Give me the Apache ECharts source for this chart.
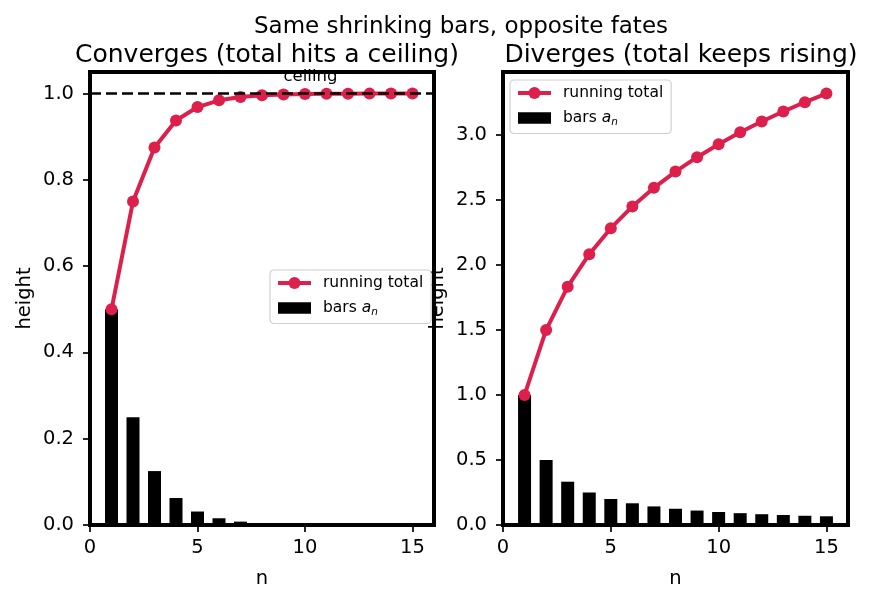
<!DOCTYPE html>
<html>
<head>
<meta charset="utf-8">
<script src="https://cdn.jsdelivr.net/npm/echarts@6/dist/echarts.min.js"></script>
<style>
  html, body { margin: 0; padding: 0; background: #fff; }
  #chart { width: 871px; height: 600px; }
</style>
</head>
<body>
<div id="chart"></div>
<script>
// n = 1..15
const nValues = [1, 2, 3, 4, 5, 6, 7, 8, 9, 10, 11, 12, 13, 14, 15];

// left panel: halving bars and their running total
const convBars = [0.5, 0.25, 0.125, 0.0625, 0.03125, 0.015625, 0.0078125, 0.0039, 0.00195, 0.00098, 0.00049, 0.00024, 0.00012, 0.00006, 0.00003];
const convTotal = [0.5, 0.75, 0.875, 0.9375, 0.96875, 0.984375, 0.9921875, 0.9961, 0.998, 0.999, 0.9995, 0.99976, 0.99988, 0.99994, 0.99997];

// right panel: 1/n bars and their running total
const divBars = [1, 0.5, 0.333, 0.25, 0.2, 0.167, 0.143, 0.125, 0.111, 0.1, 0.091, 0.083, 0.077, 0.071, 0.067];
const divTotal = [1, 1.5, 1.833, 2.083, 2.283, 2.45, 2.593, 2.718, 2.829, 2.929, 3.02, 3.103, 3.18, 3.252, 3.318];

const xTicks = [0, 5, 10, 15];
const convYTicks = [0, 0.2, 0.4, 0.6, 0.8, 1.0];
const divYTicks = [0, 0.5, 1.0, 1.5, 2.0, 2.5, 3.0];
const ceiling = 1.0;

const RED = '#dc1f4b';
const FONT = 'DejaVu Sans';

const chart = echarts.init(document.getElementById('chart'));

function pairs(xs, ys) {
    return xs.map((x, i) => [x, ys[i]]);
}

function xAxisFor(gridIndex) {
    return {
        type: 'value', gridIndex: gridIndex, min: 0, max: 16,
        name: 'n', nameLocation: 'middle', nameGap: 44,
        nameTextStyle: { fontFamily: FONT, fontSize: 19.5, color: '#000' },
        axisLine: { show: false },
        axisTick: { show: true, inside: false, length: 7, lineStyle: { color: '#000', width: 1.7 }, customValues: xTicks },
        axisLabel: { fontFamily: FONT, fontSize: 19.5, color: '#000', margin: 13, customValues: xTicks },
        splitLine: { show: false }
    };
}

function yAxisFor(gridIndex, max, ticks) {
    return {
        type: 'value', gridIndex: gridIndex, min: 0, max: max,
        name: 'height', nameLocation: 'middle', nameGap: 55,
        nameTextStyle: { fontFamily: FONT, fontSize: 19.5, color: '#000' },
        axisLine: { show: false },
        axisTick: { show: true, inside: false, length: 7, lineStyle: { color: '#000', width: 1.7 }, customValues: ticks },
        axisLabel: { fontFamily: FONT, fontSize: 19.5, color: '#000', margin: 16, customValues: ticks,
            formatter: v => v.toFixed(1) },
        splitLine: { show: false }
    };
}

const legendRich = {
    t: { fontFamily: FONT, fontSize: 15.5, color: '#000' },
    i: { fontFamily: FONT, fontSize: 15.5, fontStyle: 'italic', color: '#000' },
    s: { fontFamily: FONT, fontSize: 10.5, fontStyle: 'italic', color: '#000', padding: [8, 0, 0, 0] }
};

function legendAt(pos) {
    return Object.assign({
        data: [
            { name: 'running total' },
            { name: 'bars a_n', icon: 'path://M0,0H32V11H0Z' }
        ],
        orient: 'vertical',
        itemWidth: 33, itemHeight: 15, itemGap: 9,
        symbolKeepAspect: true,
        lineStyle: { width: 4 },
        backgroundColor: '#fff',
        borderColor: '#d0d0d0', borderWidth: 1.2, borderRadius: 4,
        padding: [5, 8, 6, 6],
        selectedMode: false,
        formatter: name => name === 'bars a_n' ? '{t|bars }{i|a}{s|n}' : '{t|' + name + '}',
        textStyle: { rich: legendRich, padding: [0, 0, 0, 7] }
    }, pos);
}

const option = {
    animation: false,
    backgroundColor: '#fff',
    title: [
        { text: 'Same shrinking bars, opposite fates', left: 456, textAlign: 'center', top: 11,
          textStyle: { fontFamily: FONT, fontSize: 23, fontWeight: 'normal', color: '#000' } },
        { text: 'Converges (total hits a ceiling)', left: 262, textAlign: 'center', top: 38,
          textStyle: { fontFamily: FONT, fontSize: 25, fontWeight: 'normal', color: '#000' } },
        { text: 'Diverges (total keeps rising)', left: 676, textAlign: 'center', top: 38,
          textStyle: { fontFamily: FONT, fontSize: 25, fontWeight: 'normal', color: '#000' } }
    ],
    legend: [
        legendAt({ left: 270, top: 270 }),
        legendAt({ left: 510, top: 80 })
    ],
    grid: [
        { left: 90, top: 72, width: 344, height: 453, show: true, borderColor: '#000', borderWidth: 4, backgroundColor: 'transparent' },
        { left: 503, top: 72, width: 345, height: 453, show: true, borderColor: '#000', borderWidth: 4, backgroundColor: 'transparent' }
    ],
    xAxis: [xAxisFor(0), xAxisFor(1)],
    yAxis: [yAxisFor(0, 1.05, convYTicks), yAxisFor(1, 3.484, divYTicks)],
    series: [
        {
            name: 'bars a_n', type: 'bar', xAxisIndex: 0, yAxisIndex: 0,
            data: pairs(nValues, convBars), barWidth: 13,
            itemStyle: { color: '#000' }, z: 2
        },
        {
            name: 'running total', type: 'line', xAxisIndex: 0, yAxisIndex: 0,
            data: pairs(nValues, convTotal),
            symbol: 'circle', symbolSize: 12,
            lineStyle: { color: RED, width: 4 }, itemStyle: { color: RED },
            z: 4,
            markLine: {
                silent: true, symbol: 'none', label: { show: false },
                lineStyle: { color: '#000', width: 2.5, type: [11, 5] },
                data: [{ yAxis: ceiling }]
            },
            markPoint: {
                silent: true, symbol: 'circle', symbolSize: 0,
                data: [{ coord: [9, 1.02] }],
                label: { show: true, formatter: 'ceiling', position: [0, 0], align: 'left', verticalAlign: 'bottom',
                    fontFamily: FONT, fontSize: 16.5, color: '#000' }
            }
        },
        {
            name: 'bars a_n', type: 'bar', xAxisIndex: 1, yAxisIndex: 1,
            data: pairs(nValues, divBars), barWidth: 13,
            itemStyle: { color: '#000' }, z: 2
        },
        {
            name: 'running total', type: 'line', xAxisIndex: 1, yAxisIndex: 1,
            data: pairs(nValues, divTotal),
            symbol: 'circle', symbolSize: 12,
            lineStyle: { color: RED, width: 4 }, itemStyle: { color: RED },
            z: 4
        }
    ]
};

chart.setOption(option);
</script>
</body>
</html>
